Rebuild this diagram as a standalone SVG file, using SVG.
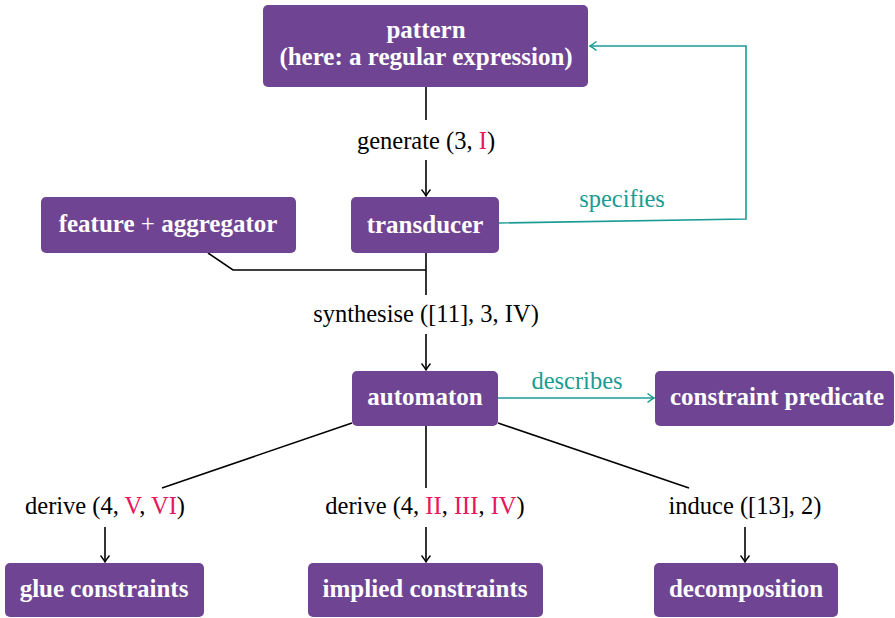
<svg xmlns="http://www.w3.org/2000/svg" width="895" height="618" viewBox="0 0 895 618">
  <style>
    .box { fill: #6F4593; }
    text { font-family: "Liberation Serif", "Times New Roman", serif; text-anchor: middle; }
    .nt { font-weight: bold; font-size: 25px; fill: #ffffff; }
    .lbl { font-size: 24.5px; fill: #000000; }
    .tl { font-size: 24.5px; fill: #1A9C94; }
    .r { fill: #E8175D; }
    .k { fill: none; stroke: #000000; stroke-width: 1.6; }
    .t { fill: none; stroke: #1A9C94; stroke-width: 1.6; }
  </style>
  <defs>
    <marker id="ah" viewBox="-8 -5 10 10" refX="0" refY="0" markerWidth="10" markerHeight="10" markerUnits="userSpaceOnUse" orient="auto">
      <path d="M-6.5,-4.5 Q-2,-1 0,0 Q-2,1 -6.5,4.5" fill="none" stroke="#000000" stroke-width="1.4"/>
    </marker>
    <marker id="aht" viewBox="-8 -5 10 10" refX="0" refY="0" markerWidth="10" markerHeight="10" markerUnits="userSpaceOnUse" orient="auto">
      <path d="M-6.5,-4.5 Q-2,-1 0,0 Q-2,1 -6.5,4.5" fill="none" stroke="#1A9C94" stroke-width="1.4"/>
    </marker>
  </defs>

  <g id="connectors">
    <!-- pattern -> transducer -->
    <path class="k" d="M426,87 V120"/>
    <path class="k" d="M426,160 V196" marker-end="url(#ah)"/>
    <!-- transducer specifies pattern -->
    <path class="t" d="M499,223 L746,219 V46 H590" marker-end="url(#aht)"/>
    <!-- feature + aggregator and transducer join -->
    <path class="k" d="M208,253 L233,270 H426"/>
    <path class="k" d="M426,253 V295"/>
    <path class="k" d="M426,334 V370" marker-end="url(#ah)"/>
    <!-- automaton describes constraint predicate -->
    <path class="t" d="M498,398 H654" marker-end="url(#aht)"/>
    <!-- automaton fan-out -->
    <path class="k" d="M352,423 L162,488"/>
    <path class="k" d="M426,426 V488"/>
    <path class="k" d="M498,423 L689,488"/>
    <path class="k" d="M105,527 V562" marker-end="url(#ah)"/>
    <path class="k" d="M426,527 V562" marker-end="url(#ah)"/>
    <path class="k" d="M745,527 V562" marker-end="url(#ah)"/>
  </g>

  <g id="labels">
    <text class="lbl" x="426" y="149">generate (3, <tspan class="r">I</tspan>)</text>
    <text class="tl" x="622" y="207">specifies</text>
    <text class="lbl" x="426" y="322">synthesise ([11], 3, IV)</text>
    <text class="tl" x="577" y="389">describes</text>
    <text class="lbl" x="105" y="514">derive (4, <tspan class="r">V</tspan>, <tspan class="r">VI</tspan>)</text>
    <text class="lbl" x="425" y="514">derive (4, <tspan class="r">II</tspan>, <tspan class="r">III</tspan>, <tspan class="r">IV</tspan>)</text>
    <text class="lbl" x="745" y="514">induce ([13], 2)</text>
  </g>

  <g id="pattern">
    <rect class="box" x="263" y="5" width="325" height="82" rx="5"/>
    <text class="nt" x="426" y="38">pattern</text>
    <text class="nt" x="426" y="65">(here: a regular expression)</text>
  </g>
  <g id="feature-aggregator">
    <rect class="box" x="41" y="197" width="255" height="56" rx="5"/>
    <text class="nt" x="168" y="232">feature <tspan font-weight="normal">+</tspan> aggregator</text>
  </g>
  <g id="transducer">
    <rect class="box" x="351" y="197" width="148" height="56" rx="5"/>
    <text class="nt" x="425" y="233">transducer</text>
  </g>
  <g id="automaton">
    <rect class="box" x="352" y="371" width="146" height="55" rx="5"/>
    <text class="nt" x="425" y="405">automaton</text>
  </g>
  <g id="constraint-predicate">
    <rect class="box" x="655" y="371" width="239" height="55" rx="5"/>
    <text class="nt" x="777" y="405">constraint predicate</text>
  </g>
  <g id="glue-constraints">
    <rect class="box" x="5" y="563" width="199" height="54" rx="5"/>
    <text class="nt" x="104" y="597">glue constraints</text>
  </g>
  <g id="implied-constraints">
    <rect class="box" x="308" y="563" width="235" height="54" rx="5"/>
    <text class="nt" x="425" y="597">implied constraints</text>
  </g>
  <g id="decomposition">
    <rect class="box" x="654" y="563" width="184" height="54" rx="5"/>
    <text class="nt" x="746" y="597">decomposition</text>
  </g>
</svg>
